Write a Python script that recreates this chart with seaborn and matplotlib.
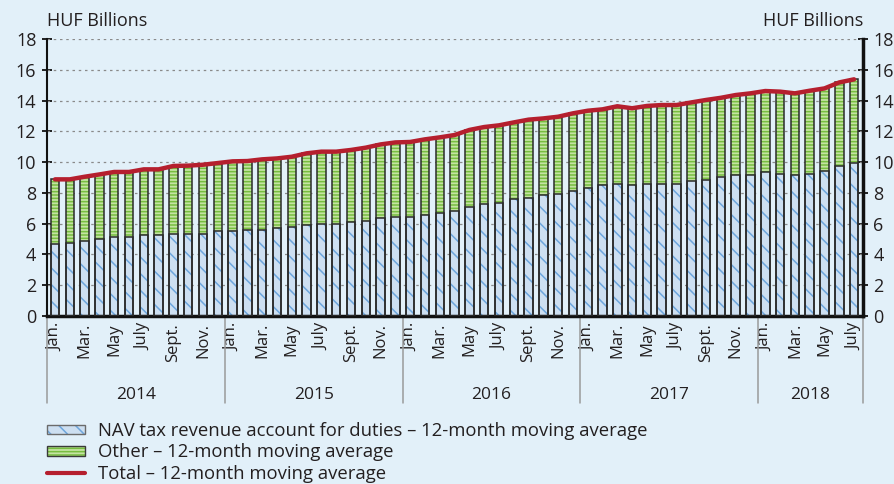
import matplotlib
matplotlib.use("Agg")
import matplotlib.pyplot as plt
import matplotlib.transforms as mtransforms
from matplotlib.patches import Patch
from matplotlib.lines import Line2D
from matplotlib.legend_handler import HandlerTuple
import pandas as pd
import seaborn as sns

# --- data (HUF billions, 12-month moving averages, Jan 2014 - July 2018) ---
years = ["2014", "2015", "2016", "2017", "2018"]
months_per_year = [12, 12, 12, 12, 7]
month_labels = ["Jan.", "", "Mar.", "", "May", "", "July", "", "Sept.", "", "Nov.", ""]

nav = [4.66, 4.76, 4.87, 4.98, 5.13, 5.13, 5.24, 5.24, 5.31, 5.31, 5.31, 5.52,
       5.52, 5.59, 5.61, 5.70, 5.78, 5.89, 5.98, 5.98, 6.08, 6.17, 6.37, 6.45,
       6.45, 6.54, 6.71, 6.80, 7.10, 7.28, 7.36, 7.58, 7.67, 7.84, 7.93, 8.10,
       8.29, 8.49, 8.58, 8.49, 8.58, 8.58, 8.58, 8.77, 8.86, 9.05, 9.14, 9.14,
       9.34, 9.25, 9.14, 9.25, 9.42, 9.72, 9.92]
other = [4.22, 4.12, 4.18, 4.22, 4.23, 4.23, 4.29, 4.29, 4.44, 4.46, 4.52, 4.42,
         4.53, 4.48, 4.57, 4.54, 4.57, 4.68, 4.70, 4.70, 4.71, 4.77, 4.78, 4.83,
         4.86, 4.94, 4.90, 4.96, 4.99, 5.00, 5.03, 5.00, 5.09, 5.00, 5.02, 5.07,
         5.05, 4.94, 5.05, 5.01, 5.07, 5.13, 5.13, 5.11, 5.18, 5.13, 5.22, 5.33,
         5.28, 5.33, 5.33, 5.39, 5.37, 5.46, 5.46]

periods = []
labels = []
for y, n in zip(years, months_per_year):
    for m in range(n):
        periods.append(f"{y}-{m + 1:02d}")
        labels.append(month_labels[m])

df = pd.DataFrame({"period": periods, "nav": nav, "other": other})
df["total"] = df["nav"] + df["other"]
df["pos"] = range(len(df))

# --- style ---
bg = "#e2f0f9"
blue_fill, blue_hatch = "#cddff1", "#6ea6dc"
green_fill, green_hatch = "#c4e3a2", "#77bd3f"
red = "#b51f2e"
text_col = "#231f20"

sns.set_style("white")
plt.rcParams["font.family"] = ["Open Sans", "DejaVu Sans"]
plt.rcParams["hatch.linewidth"] = 1.1

fig = plt.figure(figsize=(8.95, 4.84), dpi=100, facecolor=bg)
ax = fig.add_axes([0.0522, 0.3471, 0.912, 0.5723])
ax.set_facecolor(bg)

bw = 0.57
# stacked bars: total (green) behind, nav (blue) in front
sns.barplot(data=df, x="period", y="total", order=periods, width=bw, color=green_fill,
            saturation=1, edgecolor=green_hatch, linewidth=0, hatch="-----",
            errorbar=None, ax=ax, zorder=2)
sns.barplot(data=df, x="period", y="nav", order=periods, width=bw, color=blue_fill,
            saturation=1, edgecolor=blue_hatch, linewidth=0, hatch="\\\\",
            errorbar=None, ax=ax, zorder=2)
# outlines
sns.barplot(data=df, x="period", y="total", order=periods, width=bw, color="#2a2a2a",
            saturation=1, fill=False, linewidth=1.1, errorbar=None, ax=ax, zorder=3)
sns.barplot(data=df, x="period", y="nav", order=periods, width=bw, color="#2a2a2a",
            saturation=1, fill=False, linewidth=1.1, errorbar=None, ax=ax, zorder=3)

sns.lineplot(data=df, x="pos", y="total", color=red, linewidth=3.2, ax=ax, zorder=4)

# axes limits & grid
xmin, xmax = -0.56, len(df) - 1 + 0.6
ax.set_xlim(xmin, xmax)
ax.set_ylim(0, 18)
ax.set_yticks(range(0, 19, 2))
for v in range(2, 19, 2):
    ax.axhline(v, color="#8a8a8a", linestyle=(0, (2, 3)), linewidth=0.9, zorder=1)

ax.set_xlabel("")
ax.set_ylabel("")

# x ticks: month labels + separator ticks
ax.set_xticks(range(len(df)))
ax.set_xticklabels(labels, rotation=90, fontsize=12, color=text_col, va="top")
ax.tick_params(axis="x", which="major", length=0, pad=5)
ax.set_xticks([i + 0.5 for i in range(len(df) - 1)], minor=True)
ax.tick_params(axis="x", which="minor", length=4, width=1.6, color="#111", direction="out")

# y ticks both sides
ax.tick_params(axis="y", which="major", left=True, right=True, labelleft=True, labelright=True,
               direction="inout", length=7, width=1.3, color="#111", labelsize=13,
               labelcolor=text_col, pad=6)
ax.tick_params(axis="y", which="major", labelright=True, pad=4)
for lbl in ax.get_yticklabels(which="major"):
    pass

ax.spines["top"].set_visible(False)
ax.spines["left"].set_linewidth(1.5)
ax.spines["right"].set_linewidth(2.5)
ax.spines["bottom"].set_linewidth(2.5)
for s in ["left", "right", "bottom"]:
    ax.spines[s].set_color("#111")

# year separators and labels
trans = mtransforms.blended_transform_factory(ax.transData, ax.transAxes)
bounds = [xmin]
acc = 0
for n in months_per_year[:-1]:
    acc += n
    bounds.append(acc - 0.5)
bounds.append(xmax)
for b in bounds:
    ax.plot([b, b], [0, -0.315], transform=trans, color="#9a9a9a", linewidth=1.1,
            clip_on=False, zorder=1)
for i, y in enumerate(years):
    ax.text((bounds[i] + bounds[i + 1]) / 2, -0.285, y, transform=trans, ha="center",
            va="center", fontsize=12.5, color=text_col)

fig.text(0.052, 0.957, "HUF Billions", ha="left", va="center", fontsize=13, color=text_col)
fig.text(0.964, 0.957, "HUF Billions", ha="right", va="center", fontsize=13, color=text_col)

# legend
h_nav = (Patch(facecolor=blue_fill, edgecolor=blue_hatch, hatch="\\\\", linewidth=0),
         Patch(facecolor="none", edgecolor="#6b6b6b", linewidth=1.0))
h_oth = (Patch(facecolor=green_fill, edgecolor=green_hatch, hatch="-----", linewidth=0),
         Patch(facecolor="none", edgecolor="#3a3a3a", linewidth=1.0))
h_tot = Line2D([], [], color=red, linewidth=3)
fig.legend([h_nav, h_oth, h_tot],
           ["NAV tax revenue account for duties \u2013 12-month moving average",
            "Other \u2013 12-month moving average",
            "Total \u2013 12-month moving average"],
           handler_map={tuple: HandlerTuple(ndivide=1)},
           loc="upper left", bbox_to_anchor=(0.053, 0.128), frameon=False,
           fontsize=13.3, labelspacing=0.18, handlelength=2.05, handleheight=0.45,
           handletextpad=0.7, borderpad=0, borderaxespad=0, labelcolor=text_col)

fig.savefig("out.png", dpi=100, facecolor=bg)
